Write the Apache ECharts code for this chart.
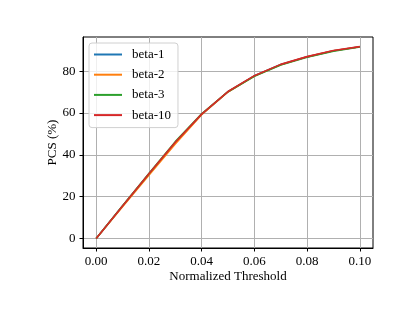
<!DOCTYPE html>
<html><head><meta charset="utf-8">
<script src="https://cdn.jsdelivr.net/npm/echarts@6/dist/echarts.min.js"></script>
<style>html,body{margin:0;padding:0;background:#fff}#c{width:415px;height:311px}</style>
</head><body><div id="c"></div>
<script>
const thresholds = [0.00, 0.01, 0.02, 0.03, 0.04, 0.05, 0.06, 0.07, 0.08, 0.09, 0.10];
const beta1  = [0, 15.5, 30.8, 45.8, 59.4, 70.2, 77.8, 83.2, 86.9, 89.8, 91.7];
const beta2  = [0, 15.2, 30.2, 45.2, 59.2, 70.1, 77.7, 83.1, 86.9, 89.8, 91.7];
const beta3  = [0, 15.6, 31.0, 46.3, 59.6, 70.2, 77.6, 83.0, 86.7, 89.6, 91.6];
const beta10 = [0, 15.5, 30.9, 46.0, 59.5, 70.3, 77.9, 83.3, 87.0, 89.9, 91.8];
const seriesNames = ['beta-1', 'beta-2', 'beta-3', 'beta-10'];
const xTicks = [0.00, 0.02, 0.04, 0.06, 0.08, 0.10];
const yTicks = [0, 20, 40, 60, 80];

const colors = ['#1f77b4', '#ff7f0e', '#2ca02c', '#d62728'];
const font = 'Liberation Serif, Times New Roman, serif';
const chart = echarts.init(document.getElementById('c'), null, {renderer: 'canvas'});
const allData = [beta1, beta2, beta3, beta10];
chart.setOption({
  animation: false,
  backgroundColor: '#fff',
  textStyle: {fontFamily: font},
  grid: {left: 83, top: 37, right: 42, bottom: 63, show: true, borderColor: '#000', borderWidth: 1, backgroundColor: 'transparent'},
  legend: {
    show: true, left: 89, top: 43, orient: 'vertical', itemGap: 7.2,
    itemWidth: 28, itemHeight: 12,
    backgroundColor: 'rgba(255,255,255,0.8)', borderColor: '#d0d0d0', borderWidth: 1, borderRadius: 3,
    padding: [5, 7, 6, 5],
    textStyle: {fontFamily: font, fontSize: 13, color: '#000', padding: [0, 0, 0, 5]},
    icon: 'path://M0,0 L28,0 L28,2 L0,2 Z',
    data: seriesNames
  },
  xAxis: {
    type: 'value', min: -0.005, max: 0.105,
    name: 'Normalized Threshold', nameLocation: 'middle', nameGap: 22, nameMoveOverlap: false,
    nameTextStyle: {fontFamily: font, fontSize: 13, color: '#000'},
    axisLine: {show: true, onZero: false, lineStyle: {color: '#000', width: 1}},
    axisTick: {show: true, length: 3.5, customValues: xTicks, lineStyle: {color: '#000'}},
    axisLabel: {customValues: xTicks, fontFamily: font, fontSize: 13, color: '#000', margin: 7,
      formatter: v => v.toFixed(2)},
    splitLine: {show: true, lineStyle: {color: '#b0b0b0', width: 1}}
  },
  yAxis: {
    type: 'value', min: -4.6, max: 96.4,
    name: 'PCS (%)', nameLocation: 'middle', nameGap: 24, nameMoveOverlap: false,
    nameTextStyle: {fontFamily: font, fontSize: 13, color: '#000'},
    axisLine: {show: true, onZero: false, lineStyle: {color: '#000', width: 1}},
    axisTick: {show: true, length: 3.5, customValues: yTicks, lineStyle: {color: '#000'}},
    axisLabel: {customValues: yTicks, fontFamily: font, fontSize: 13, color: '#000', margin: 7.5,
      formatter: v => String(Math.round(v))},
    splitLine: {show: true, lineStyle: {color: '#b0b0b0', width: 1}}
  },
  series: seriesNames.map((n, i) => ({
    name: n, type: 'line', showSymbol: false, symbol: 'none',
    data: thresholds.map((t, j) => [t, allData[i][j]]),
    lineStyle: {color: colors[i], width: 1.6},
    itemStyle: {color: colors[i]}
  }))
});
</script></body></html>
